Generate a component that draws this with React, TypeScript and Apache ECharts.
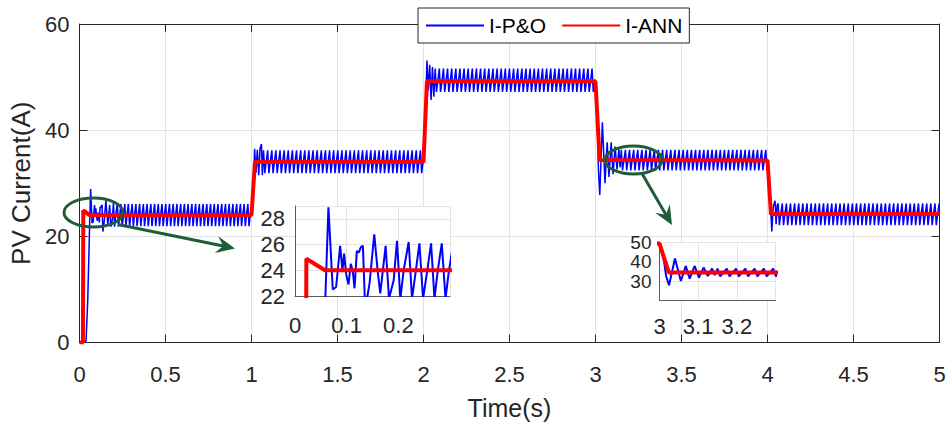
import React, { useEffect, useRef } from 'react';
import * as echarts from 'echarts';

const FONT = '"Liberation Sans", Arial, Helvetica, sans-serif';
const INK = '#262626';
const GRIDC = '#e3e3e3';
const GREEN = '#1f5c38';

// ---- I-ANN (red) trace ----
const annTime = [0, 0.02, 0.022, 0.058, 1.0, 1.02, 2.0, 2.02, 3.0, 3.024, 4.0, 4.02, 5.0];
const annCurrent = [0, 0, 24.9, 24.0, 24.0, 34.0, 34.0, 49.2, 49.2, 34.4, 34.3, 24.2, 24.2];

// ---- I-P&O (blue) transients ----
const poStartT = [0, 0.038, 0.048, 0.058, 0.0647, 0.0731, 0.0796, 0.0874, 0.0919, 0.0951, 0.099, 0.1036, 0.108, 0.112, 0.1152, 0.1197, 0.1236, 0.1275, 0.1314, 0.1359, 0.1443, 0.1534, 0.1599, 0.165, 0.1754, 0.1819, 0.1909, 0.1974, 0.2039, 0.2103, 0.22, 0.2265, 0.233, 0.2408, 0.2479, 0.2557, 0.2634, 0.2699, 0.2764, 0.2841, 0.2913, 0.2977];
const poStartI = [0, 0.3, 8, 21, 28.9, 22.5, 22.7, 25.9, 24.0, 25.3, 23.7, 22.9, 24.5, 23.9, 22.6, 25.5, 25.4, 25.8, 25.9, 20.9, 23.0, 26.8, 24.0, 22.2, 25.9, 21.8, 23.2, 26.3, 21.8, 24.0, 26.2, 21.8, 23.7, 26.1, 21.8, 23.9, 26.1, 21.8, 24.0, 26.1, 21.8, 23.9];
const poStep1T = [1.0, 1.012, 1.018, 1.026, 1.034, 1.042, 1.05, 1.058, 1.063];
const poStep1I = [25.0, 30.0, 36.5, 32.0, 36.3, 31.5, 36.6, 37.4, 31.5];
const poStep2T = [2.0, 2.012, 2.02, 2.028, 2.036, 2.044, 2.052, 2.06];
const poStep2I = [36.0, 44.0, 53.1, 47.5, 52.3, 45.7, 51.9, 46.3];
const poStep3T = [3.0, 3.012, 3.017, 3.0247, 3.04, 3.0552, 3.068, 3.078, 3.091, 3.102, 3.114, 3.125, 3.136, 3.143];
const poStep3I = [49.0, 40.0, 32.6, 27.8, 41.5, 30.0, 37.7, 31.2, 37.7, 31.7, 36.9, 32.6, 36.4, 33.0];
const poStep4T = [4.0, 4.015, 4.025, 4.033, 4.044, 4.05, 4.056];
const poStep4I = [34.0, 28.0, 20.9, 25.5, 26.7, 22.3, 25.8];

// ---- I-P&O steady-state oscillation (one cycle shape per segment) ----
const steadyFrom = [0.3064, 1.07, 2.068, 3.15, 4.062];
const steadyTo = [1.0, 2.0, 3.0, 4.0, 5.0];
const steadyPeriod = [0.0217, 0.024, 0.024, 0.024, 0.024];
const steadyPeak = [26.1, 36.2, 51.6, 36.3, 26.2];
const steadyTrough = [21.9, 31.9, 47.2, 32.4, 22.1];
const steadyMid = [23.9, 33.8, 49.0, 34.2, 24.0];
const cycleTroughAt = 0.3;
const cycleMidAt = 0.6;

// ---- axes ----
const mainXTicks = { min: 0, max: 5, interval: 0.5 };
const mainYTicks = { min: 0, max: 60, interval: 20 };
const inset1X = { min: 0, max: 0.3, interval: 0.1 };
const inset1Y = { min: 22, max: 29, interval: 2 };
const inset2X = { min: 3, max: 3.3, interval: 0.1 };
const inset2Y = { min: 20, max: 50, interval: 10 };
const inset2HiddenLabel = 20;

function buildPO(): number[][] {
  const pts: number[][] = [];
  const trT = [poStartT, poStep1T, poStep2T, poStep3T, poStep4T];
  const trI = [poStartI, poStep1I, poStep2I, poStep3I, poStep4I];
  for (let s = 0; s < 5; s++) {
    trT[s].forEach((t, i) => pts.push([t, trI[s][i]]));
    const per = steadyPeriod[s];
    for (let t = steadyFrom[s]; t < steadyTo[s] - 1e-9; t += per) {
      pts.push([t, steadyPeak[s]]);
      if (t + cycleTroughAt * per < steadyTo[s]) pts.push([t + cycleTroughAt * per, steadyTrough[s]]);
      if (t + cycleMidAt * per < steadyTo[s]) pts.push([t + cycleMidAt * per, steadyMid[s]]);
    }
  }
  return pts;
}

function arrow(x1: number, y1: number, x2: number, y2: number): any[] {
  const dx = x2 - x1, dy = y2 - y1;
  const L = Math.hypot(dx, dy);
  const ux = dx / L, uy = dy / L;
  const px = -uy, py = ux;
  const headL = 19, headW = 8.5, notch = 12;
  return [
    {
      type: 'line', z: 10,
      shape: { x1, y1, x2: x2 - ux * notch, y2: y2 - uy * notch },
      style: { stroke: GREEN, lineWidth: 3 },
    },
    {
      type: 'polygon', z: 10,
      shape: {
        points: [
          [x2, y2],
          [x2 - ux * headL + px * headW, y2 - uy * headL + py * headW],
          [x2 - ux * notch, y2 - uy * notch],
          [x2 - ux * headL - px * headW, y2 - uy * headL - py * headW],
        ],
      },
      style: { fill: GREEN },
    },
  ];
}

export default function App() {
  const ref = useRef<HTMLDivElement>(null);
  useEffect(() => {
    document.body.style.margin = '0';
    const chart = echarts.init(ref.current!, null, { renderer: 'svg' });
    const po = buildPO();
    const ann = annTime.map((t, i) => [t, annCurrent[i]]);

    const label = { fontFamily: FONT, fontSize: 22, color: INK };
    const mainLine = { onZero: false, lineStyle: { color: INK, width: 1 } };
    const mainTick = { inside: true, length: 8, lineStyle: { color: INK, width: 1 } };
    const insetLine = { onZero: false, lineStyle: { color: '#5a5a5a', width: 1 } };
    const split = { show: true, lineStyle: { color: GRIDC, width: 1 } };

    const option: any = {
      animation: false,
      backgroundColor: '#fff',
      grid: [
        { left: 79.5, top: 24, right: 9.5, bottom: 83.5 },
        { left: 295, top: 206, width: 155, height: 90, show: true, backgroundColor: '#fff', borderWidth: 0, z: 3 },
        { left: 659.5, top: 242, width: 116, height: 58.5, show: true, backgroundColor: '#fff', borderWidth: 0, z: 3 },
      ],
      legend: {
        top: 8, left: 418, data: ['I-P&O', 'I-ANN'],
        itemWidth: 58, itemHeight: 14, itemGap: 15, padding: [7, 7],
        itemStyle: { opacity: 0 },
        borderColor: INK, borderWidth: 1, borderRadius: 0, backgroundColor: '#fff',
        textStyle: { fontFamily: FONT, fontSize: 21, color: '#000' },
      },
      xAxis: [
        {
          gridIndex: 0, type: 'value', position: 'bottom', ...mainXTicks,
          axisLine: mainLine, axisTick: mainTick,
          axisLabel: { ...label, margin: 21 }, splitLine: split,
          name: 'Time(s)', nameLocation: 'middle', nameGap: 53,
          nameTextStyle: { fontFamily: FONT, fontSize: 25, color: INK },
        },
        {
          gridIndex: 0, type: 'value', position: 'top', ...mainXTicks,
          axisLine: mainLine, axisTick: mainTick, axisLabel: { show: false }, splitLine: { show: false },
        },
        {
          gridIndex: 1, type: 'value', ...inset1X, z: 4,
          axisLine: insetLine, axisTick: { show: false },
          axisLabel: { ...label, margin: 18, showMaxLabel: false }, splitLine: split,
        },
        {
          gridIndex: 2, type: 'value', ...inset2X, z: 4,
          axisLine: insetLine, axisTick: { show: false },
          axisLabel: { ...label, margin: 15, showMaxLabel: false }, splitLine: split,
        },
      ],
      yAxis: [
        {
          gridIndex: 0, type: 'value', position: 'left', ...mainYTicks,
          axisLine: mainLine, axisTick: mainTick,
          axisLabel: { ...label, margin: 10 }, splitLine: split,
          name: 'PV Current(A)', nameLocation: 'middle', nameGap: 44,
          nameTextStyle: { fontFamily: FONT, fontSize: 26, color: INK },
        },
        {
          gridIndex: 0, type: 'value', position: 'right', ...mainYTicks,
          axisLine: mainLine, axisTick: mainTick, axisLabel: { show: false }, splitLine: { show: false },
        },
        {
          gridIndex: 1, type: 'value', ...inset1Y, z: 4,
          axisLine: insetLine, axisTick: { show: false },
          axisLabel: { ...label, margin: 10 }, splitLine: split,
        },
        {
          gridIndex: 2, type: 'value', ...inset2Y, z: 4,
          axisLine: insetLine, axisTick: { show: false },
          axisLabel: {
            ...label, fontSize: 19, margin: 8, lineHeight: 19, hideOverlap: false,
            showMaxLabel: true, showMinLabel: false,
            formatter: (v: number) => (v === inset2HiddenLabel ? '' : String(v)),
          },
          splitLine: split,
        },
      ],
      series: [
        { name: 'I-P&O', type: 'line', xAxisIndex: 0, yAxisIndex: 0, data: po, symbol: 'none', z: 2,
          lineStyle: { color: '#0000ff', width: 1.5 }, itemStyle: { color: '#0000ff' } },
        { name: 'I-ANN', type: 'line', xAxisIndex: 0, yAxisIndex: 0, data: ann, symbol: 'none', z: 2,
          lineStyle: { color: '#ff0000', width: 4 }, itemStyle: { color: '#ff0000' } },
        { name: 'I-P&O', type: 'line', xAxisIndex: 2, yAxisIndex: 2, data: po, symbol: 'none', z: 5,
          lineStyle: { color: '#0000ff', width: 2 }, itemStyle: { color: '#0000ff' } },
        { name: 'I-ANN', type: 'line', xAxisIndex: 2, yAxisIndex: 2, data: ann, symbol: 'none', z: 5,
          lineStyle: { color: '#ff0000', width: 4 }, itemStyle: { color: '#ff0000' } },
        { name: 'I-P&O', type: 'line', xAxisIndex: 3, yAxisIndex: 3, data: po, symbol: 'none', z: 5,
          lineStyle: { color: '#0000ff', width: 2 }, itemStyle: { color: '#0000ff' } },
        { name: 'I-ANN', type: 'line', xAxisIndex: 3, yAxisIndex: 3, data: ann, symbol: 'none', z: 5,
          lineStyle: { color: '#ff0000', width: 4 }, itemStyle: { color: '#ff0000' } },
      ],
      graphic: [
        { type: 'ellipse', z: 10, shape: { cx: 93.5, cy: 212.5, rx: 29.5, ry: 14.5 },
          style: { fill: 'none', stroke: GREEN, lineWidth: 3 } },
        { type: 'ellipse', z: 10, shape: { cx: 633.5, cy: 160, rx: 28.5, ry: 14 },
          style: { fill: 'none', stroke: GREEN, lineWidth: 3 } },
        ...arrow(118, 224.5, 235, 248.5),
        ...arrow(642, 173.5, 672, 225),
      ],
    };
    chart.setOption(option);
    return () => chart.dispose();
  }, []);
  return <div ref={ref} style={{ width: 949, height: 426 }} />;
}
